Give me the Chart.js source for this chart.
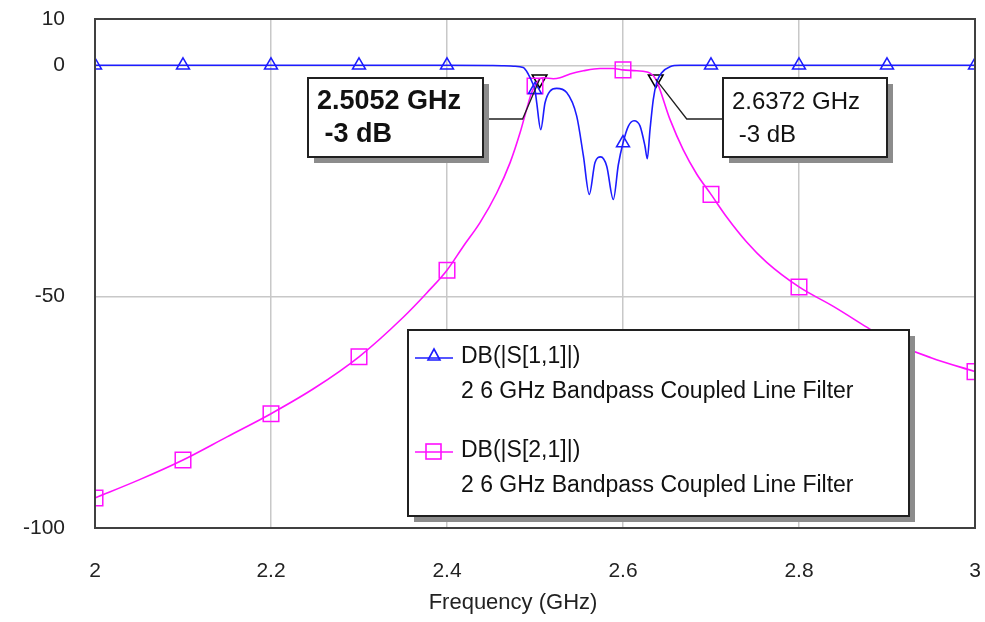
<!DOCTYPE html>
<html>
<head>
<meta charset="utf-8">
<script src="https://cdn.jsdelivr.net/npm/chart.js@4.4.1/dist/chart.umd.min.js"></script>
<style>
  html, body { margin: 0; padding: 0; background: #fff; }
  #wrap { width: 985px; height: 622px; }
</style>
</head>
<body>
<div id="wrap"><canvas id="filterChart"></canvas></div>
<script>
// S11 trace (GHz / dB)
const s11Freq = [2.0, 2.1, 2.2, 2.3, 2.4, 2.45, 2.465, 2.4753, 2.4867, 2.4923, 2.498, 2.5, 2.5019, 2.5065,
  2.5114, 2.517, 2.5246, 2.536, 2.5474, 2.555, 2.5617, 2.5682, 2.5747, 2.5815, 2.589, 2.5947, 2.6, 2.606,
  2.6125, 2.6193, 2.625, 2.6276, 2.6307, 2.6344, 2.6383, 2.644, 2.6534, 2.665, 2.7, 2.8, 2.9, 3.0];
const s11Db = [0, 0, 0, 0, 0, -0.05, -0.1, -0.2, -0.5, -1.9, -4.2, -5.3, -8, -13.9,
  -8.1, -5.6, -5.0, -5.9, -11, -19.6, -27.9, -21, -19.8, -21.8, -29, -21.5, -16.8, -13.2,
  -12, -13.1, -17.5, -20.2, -13.9, -7.4, -3.7, -1.6, -0.3, 0, 0, 0, 0, 0];

// S21 trace
const s21Freq = [2.0, 2.05, 2.1, 2.15, 2.2, 2.25, 2.3, 2.35, 2.377, 2.4, 2.4186, 2.4375, 2.4565, 2.4716,
  2.483, 2.4905, 2.4962, 2.5, 2.5052, 2.5095, 2.5208, 2.5284, 2.5398, 2.555, 2.5739, 2.589, 2.6, 2.6155,
  2.6307, 2.6372, 2.6534, 2.6685, 2.6837, 2.7, 2.7178, 2.7405, 2.7633, 2.8, 2.839, 2.877, 2.9, 2.95, 3.0];
const s21Db = [-93.5, -89.6, -85.3, -80.3, -75.3, -69.7, -63.0, -54.5, -49.2, -44.3, -39.1, -34, -27.6, -21.1,
  -14.6, -9.5, -5.9, -4.5, -3, -2.7, -2.9, -2.7, -1.9, -1.2, -0.7, -0.7, -1.0, -1.2,
  -1.7, -3, -11.7, -18.3, -23.5, -27.9, -32.8, -38.2, -42.6, -47.9, -52.1, -56.6, -59.3, -63.2, -66.2];

// -3 dB markers
const markerFreq = [2.5052, 2.6372];
const markerDb = [-3, -3];
const markerText = [["2.5052 GHz", " -3 dB"], ["2.6372 GHz", " -3 dB"]];

// symbols are drawn every 0.1 GHz
const symbolFreq = [2.0, 2.1, 2.2, 2.3, 2.4, 2.5, 2.6, 2.7, 2.8, 2.9, 3.0];

const xTicks = [2, 2.2, 2.4, 2.6, 2.8, 3];
const yTicks = [10, 0, -50, -100];
const xTitle = "Frequency (GHz)";

const legendNames = ["DB(|S[1,1]|)", "DB(|S[2,1]|)"];
const legendDesc = "2 6 GHz Bandpass Coupled Line Filter";

const FONT = '"Liberation Sans", Arial, sans-serif';
const BLUE = "#1c1cff";
const PINK = "#ff10ff";

function hasSymbol(x) {
  return symbolFreq.some(f => Math.abs(f - x) < 1e-6);
}

function boxWithShadow(ctx, x, y, w, h) {
  ctx.fillStyle = "#8c8c8c";
  ctx.fillRect(x + 6, y + 6, w, h);
  ctx.fillStyle = "#fff";
  ctx.fillRect(x, y, w, h);
  ctx.strokeStyle = "#202020";
  ctx.lineWidth = 2;
  ctx.strokeRect(x, y, w, h);
}

const decorPlugin = {
  id: "decor",
  afterDatasetsDraw(chart) {
    const { ctx, chartArea: a } = chart;
    ctx.save();
    ctx.strokeStyle = "#404040";
    ctx.lineWidth = 2;
    ctx.strokeRect(a.left, a.top, a.right - a.left, a.bottom - a.top);
    ctx.restore();
  },
  afterDraw(chart) {
    const { ctx } = chart;
    const xs = chart.scales.x, ys = chart.scales.y;
    ctx.save();

    // axis title (sits a little left of centre in the original)
    ctx.fillStyle = "#222";
    ctx.font = "22px " + FONT;
    ctx.textAlign = "center";
    ctx.textBaseline = "middle";
    ctx.fillText(xTitle, 513, 603);

    // marker annotations
    const boxes = [
      { x: 308, y: 78, w: 175, h: 79, side: "right", bold: true },
      { x: 723, y: 78, w: 164, h: 79, side: "left", bold: false }
    ];
    boxes.forEach((b, i) => {
      const px = xs.getPixelForValue(markerFreq[i]);
      const py = ys.getPixelForValue(markerDb[i]);
      const ly = b.y + 41;
      const ex = b.side === "right" ? b.x + b.w : b.x;
      const kx = b.side === "right" ? px - 17 : px + 31;
      ctx.strokeStyle = "#202020";
      ctx.lineWidth = 1.3;
      ctx.beginPath();
      ctx.moveTo(ex, ly);
      ctx.lineTo(kx, ly);
      ctx.lineTo(px, py);
      ctx.stroke();
      boxWithShadow(ctx, b.x, b.y, b.w, b.h);
      ctx.fillStyle = "#111";
      ctx.textBaseline = "middle";
      ctx.textAlign = "left";
      ctx.font = (b.bold ? "bold 27px " : "24px ") + FONT;
      ctx.fillText(markerText[i][0], b.x + 9, b.y + 24);
      ctx.fillText(markerText[i][1], b.x + 9, b.y + 57);
    });

    // legend
    boxWithShadow(ctx, 408, 330, 501, 186);
    const rows = [
      { y: 357, color: BLUE, style: "triangle" },
      { y: 451, color: PINK, style: "rect" }
    ];
    rows.forEach((r, i) => {
      ctx.strokeStyle = r.color;
      ctx.lineWidth = 1.6;
      ctx.beginPath();
      ctx.moveTo(415, r.y + 1);
      ctx.lineTo(453, r.y + 1);
      ctx.stroke();
      if (r.style === "triangle") {
        ctx.beginPath();
        ctx.moveTo(434, r.y - 8);
        ctx.lineTo(440, r.y + 3);
        ctx.lineTo(428, r.y + 3);
        ctx.closePath();
        ctx.stroke();
      } else {
        ctx.strokeRect(426, r.y - 7, 15, 15);
      }
      ctx.fillStyle = "#111";
      ctx.font = "23px " + FONT;
      ctx.textAlign = "left";
      ctx.textBaseline = "middle";
      ctx.fillText(legendNames[i], 461, r.y);
      ctx.fillText(legendDesc, 461, r.y + 35);
    });
    ctx.restore();
  }
};

new Chart(document.getElementById("filterChart"), {
  type: "line",
  data: {
    datasets: [
      {
        label: legendNames[0],
        data: s11Freq.map((f, i) => ({ x: f, y: s11Db[i] })),
        borderColor: BLUE,
        borderWidth: 1.6,
        backgroundColor: "transparent",
        pointStyle: "triangle",
        pointRadius: c => hasSymbol(c.raw.x) ? 7.5 : 0,
        pointBorderColor: BLUE,
        pointBorderWidth: 1.5,
        cubicInterpolationMode: "monotone",
        clip: 0
      },
      {
        label: legendNames[1],
        data: s21Freq.map((f, i) => ({ x: f, y: s21Db[i] })),
        borderColor: PINK,
        borderWidth: 1.6,
        backgroundColor: "transparent",
        pointStyle: "rect",
        pointRadius: c => hasSymbol(c.raw.x) ? 11 : 0,
        pointBorderColor: PINK,
        pointBorderWidth: 1.5,
        cubicInterpolationMode: "monotone",
        clip: 0
      },
      {
        label: "markers",
        data: markerFreq.map((f, i) => ({ x: f, y: markerDb[i] })),
        showLine: false,
        pointStyle: "triangle",
        rotation: 180,
        pointRadius: 8.5,
        pointBorderColor: "#000",
        pointBackgroundColor: "transparent",
        pointBorderWidth: 1.5
      }
    ]
  },
  options: {
    responsive: true,
    maintainAspectRatio: false,
    animation: false,
    events: [],
    layout: { autoPadding: false, padding: { top: 19, right: 10, left: 0, bottom: 0 } },
    plugins: { legend: { display: false }, tooltip: { enabled: false } },
    scales: {
      x: {
        type: "linear",
        min: 2,
        max: 3,
        afterBuildTicks: s => { s.ticks = xTicks.map(v => ({ value: v })); },
        afterFit: s => { s.height = 94; s.paddingLeft = 0; s.paddingRight = 0; },
        ticks: {
          callback: v => String(v),
          color: "#222",
          font: { family: FONT, size: 21 },
          padding: 31,
          maxRotation: 0
        },
        grid: { color: "#c8c8c8", lineWidth: 1.5, drawTicks: false },
        border: { display: false }
      },
      y: {
        type: "linear",
        min: -100,
        max: 10,
        afterBuildTicks: s => { s.ticks = yTicks.map(v => ({ value: v })); },
        afterFit: s => { s.width = 95; s.paddingTop = 0; s.paddingBottom = 0; },
        ticks: {
          callback: v => String(v),
          color: "#222",
          font: { family: FONT, size: 21 },
          padding: 30
        },
        grid: { color: "#c8c8c8", lineWidth: 1.5, drawTicks: false },
        border: { display: false }
      }
    }
  },
  plugins: [decorPlugin]
});
</script>
</body>
</html>
